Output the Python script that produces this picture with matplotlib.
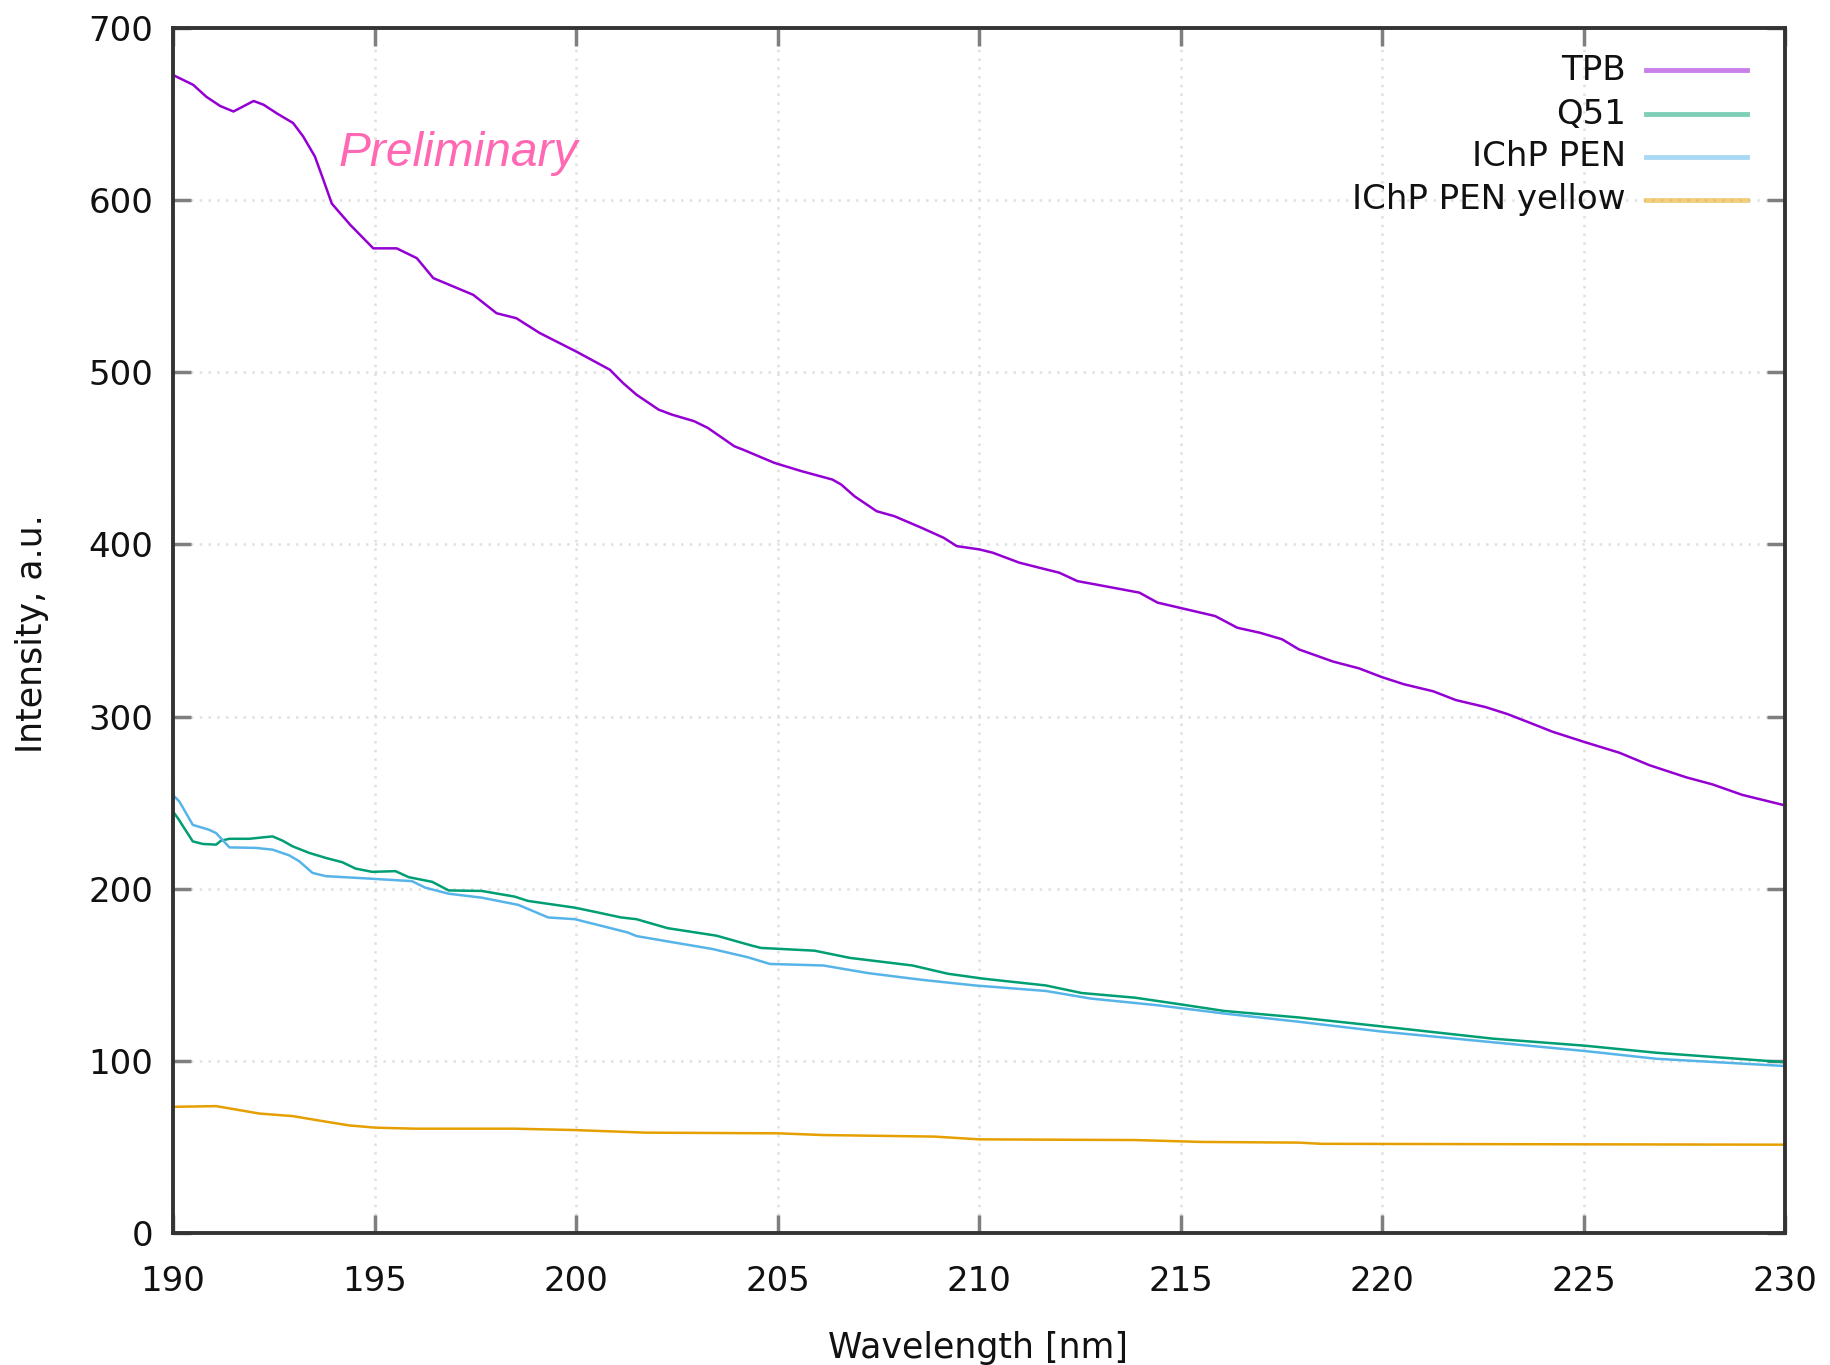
import matplotlib
matplotlib.use("Agg")
import matplotlib.pyplot as plt
from matplotlib.lines import Line2D

plt.rcParams['font.family'] = ['DejaVu Sans']

# ---------------- data ----------------
tpb_x = [190.0, 190.5, 190.83, 191.17, 191.5, 192.0, 192.25, 192.57, 192.98, 193.23,
         193.52, 193.73, 193.94, 194.4, 194.97, 195.55, 196.05, 196.46, 197.45, 198.03,
         198.52, 199.1, 200.01, 200.84, 201.17, 201.5, 202.05, 202.38, 202.93, 203.27,
         203.93, 204.15, 204.92, 205.59, 206.36, 206.58, 206.91, 207.46, 207.9, 208.57,
         209.12, 209.45, 210.01, 210.34, 211.0, 211.66, 211.99, 212.44, 212.88, 213.98,
         214.43, 214.98, 215.86, 216.41, 216.97, 217.52, 217.94, 218.78, 219.43, 220.0,
         220.54, 221.27, 221.83, 222.57, 223.12, 223.68, 224.23, 225.04, 225.89, 226.63,
         227.55, 228.2, 228.94, 230.0]
tpb_y = [672.7, 667, 660, 654.7, 651.5, 657.6, 655.4, 650.5, 644.8, 637,
         625.4, 611.9, 598, 585.6, 572, 572, 566.3, 554.7, 545, 534.3,
         531.4, 522.8, 512, 501.5, 493.7, 487, 478.3, 475.4, 471.6, 467.7,
         457, 455, 447.4, 442.6, 437.7, 434.8, 428, 419.3, 416.4, 409.7,
         403.9, 399, 397.1, 395.2, 389.4, 385.5, 383.6, 378.7, 376.8, 372,
         366.2, 363.2, 358.4, 351.6, 348.7, 344.9, 339, 332, 328, 322.9,
         318.8, 314.7, 309.6, 305.5, 301.4, 296.3, 291.2, 285.1, 279, 271.8,
         264.7, 260.6, 254.5, 248.4]

q51_x = [190.0, 190.12, 190.49, 190.74, 191.07, 191.19, 191.4, 191.89, 192.47, 192.72,
         192.97, 193.38, 193.79, 194.2, 194.53, 194.94, 195.52, 195.85, 196.43, 196.84,
         197.66, 198.48, 198.81, 199.97, 200.54, 201.12, 201.5, 202.27, 203.49, 204.37,
         204.59, 205.92, 206.8, 208.35, 209.23, 210.12, 211.66, 212.55, 213.87, 214.98,
         216.08, 217.94, 220.0, 222.75, 225.04, 226.81, 230.0]
q51_y = [244.8, 241, 227.5, 226, 225.6, 227.9, 229, 229, 230.4, 227.9,
         224.6, 220.8, 217.9, 215.4, 211.7, 209.8, 210.2, 206.7, 204, 199,
         198.7, 195.4, 192.9, 189, 186.2, 183.3, 182.3, 177.1, 172.7, 166.9,
         165.6, 164, 159.8, 155.4, 150.6, 147.7, 143.8, 139.4, 136.7, 132.9,
         129, 125.2, 120, 112.9, 108.8, 104.7, 99.2]

pen_x = [190.0, 190.16, 190.49, 190.9, 191.07, 191.4, 192.06, 192.47, 192.88, 193.13,
         193.46, 193.79, 194.78, 195.93, 196.26, 196.84, 197.66, 198.57, 199.31, 199.97,
         200.79, 201.28, 201.5, 202.27, 203.38, 204.26, 204.81, 206.14, 207.24, 208.57,
         209.9, 211.66, 212.77, 214.43, 216.08, 217.94, 220.0, 222.75, 225.04, 226.81,
         230.0]
pen_y = [254.4, 250.6, 237.1, 234.2, 232.3, 224, 223.7, 222.7, 219.4, 216,
         209.2, 207.3, 206, 204.4, 200.6, 197.1, 194.8, 190.6, 183.3, 182.3,
         177.5, 174.6, 172.5, 169.4, 165, 160.2, 156.3, 155.4, 151, 147.1,
         143.8, 140.6, 136.2, 132.3, 127.5, 122.7, 117, 110.8, 105.7, 101.2,
         97]

yel_x = [190.0, 191.07, 191.57, 192.14, 192.97, 193.71, 194.37, 195.02, 196.01, 198.48,
         199.97, 201.72, 205.03, 206.14, 208.9, 210.0, 213.87, 215.53, 217.94, 218.5,
         230.0]
yel_y = [73.3, 73.7, 71.7, 69.4, 67.9, 65, 62.5, 61.2, 60.6, 60.6,
         59.8, 58.3, 57.9, 56.9, 56, 54.4, 54, 52.9, 52.5, 51.8,
         51.3]

series_labels = ["TPB", "Q51", "IChP PEN", "IChP PEN yellow"]
series_colors = ["#9400D3", "#009E73", "#56B4E9", "#E69F00"]
x_ticks = [190, 195, 200, 205, 210, 215, 220, 225, 230]
y_ticks = [0, 100, 200, 300, 400, 500, 600, 700]

# ---------------- figure ----------------
W, H = 1830, 1365
fig = plt.figure(figsize=(W / 100, H / 100), dpi=100)
L, R, T, B = 173, 1785, 28, 1233
ax = fig.add_axes([L / W, 1 - B / H, (R - L) / W, (B - T) / H])

data = [(tpb_x, tpb_y), (q51_x, q51_y), (pen_x, pen_y), (yel_x, yel_y)]
for (xs, ys), lab, col in zip(data, series_labels, series_colors):
    ax.plot(xs, ys, color=col, lw=1.8, label=lab, solid_joinstyle='round', zorder=3)

ax.set_xlim(190, 230)
ax.set_ylim(0, 700)
ax.set_xticks(x_ticks)
ax.set_yticks(y_ticks)
ax.tick_params(axis='both', direction='in', length=13, width=2.5, color='#7f7f7f',
               labelsize=24.5, top=True, right=True, labelcolor='#111111')
ax.tick_params(axis='x', pad=23)
ax.tick_params(axis='y', pad=14)

ax.grid(True, color='#e0e0e0', lw=1.8, linestyle=(0, (1, 2.5)), zorder=0)
ax.set_axisbelow(True)
for sp in ax.spines.values():
    sp.set_linewidth(2.8)
    sp.set_color('#333333')
    sp.set_zorder(5)

# axis labels
fig.text(978 / W, 1 - 1348 / H, "Wavelength [nm]", ha='center', va='center',
         fontsize=25, color='#111111')
fig.text(32 / W, 1 - 634 / H, "Intensity, a.u.", ha='center', va='center',
         rotation=90, fontsize=25, color='#111111')

# Preliminary annotation
ax.text(194.1, 620, "Preliminary", fontsize=34.5, style='italic', color='#FF69B4',
        family='Liberation Sans', ha='left', va='baseline', zorder=4)

# legend (gnuplot style: right-aligned text, sample to the right)
rows_y = [70, 114, 157, 200]
for lab, col, yy in zip(series_labels, series_colors, rows_y):
    fig.text(1626 / W, 1 - yy / H, lab, ha='right', va='center', fontsize=24.5,
             color='#111111')
    fig.add_artist(Line2D([1646 / W, 1747 / W], [1 - yy / H, 1 - yy / H],
                          transform=fig.transFigure, color=col, lw=3.5, alpha=0.5))

fig.savefig("out.png", dpi=100, facecolor='white')
